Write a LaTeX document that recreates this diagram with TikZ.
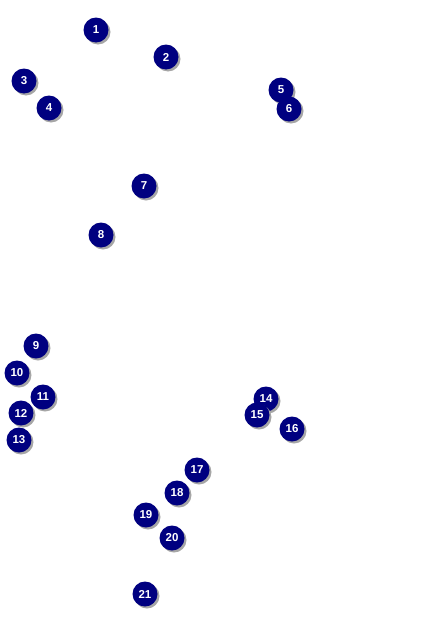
\documentclass[tikz,border=0pt]{standalone}
\usepackage{fontspec}
\setmainfont{Liberation Sans}
\begin{document}
\begin{tikzpicture}[x=1pt,y=-1pt,
  badge/.style={circle,fill={rgb,255:red,0;green,0;blue,128},text=white,minimum size=25pt,inner sep=0pt,font=\bfseries\fontsize{11.5}{11.5}\selectfont},
  shade/.style={circle,fill=black!35,minimum size=25pt,inner sep=0pt}]
\useasboundingbox (0,0) rectangle (442,624);
\foreach \n/\x/\y in {1/96/30,2/166/57,3/24/81,4/49/108,5/281/90,6/289/109,7/144/186,8/101/235,9/36/346,10/17/373,11/43/397,12/21/413,13/19/440,14/266/399,15/257/415,16/292/429,17/197/470,18/177/493,19/146/515,20/172/538,21/145/594}{
  \node[shade] (s\n) at (\x+2,\y+2) {};
  \node[badge] (b\n) at (\x,\y) {\n};
}
\end{tikzpicture}
\end{document}
